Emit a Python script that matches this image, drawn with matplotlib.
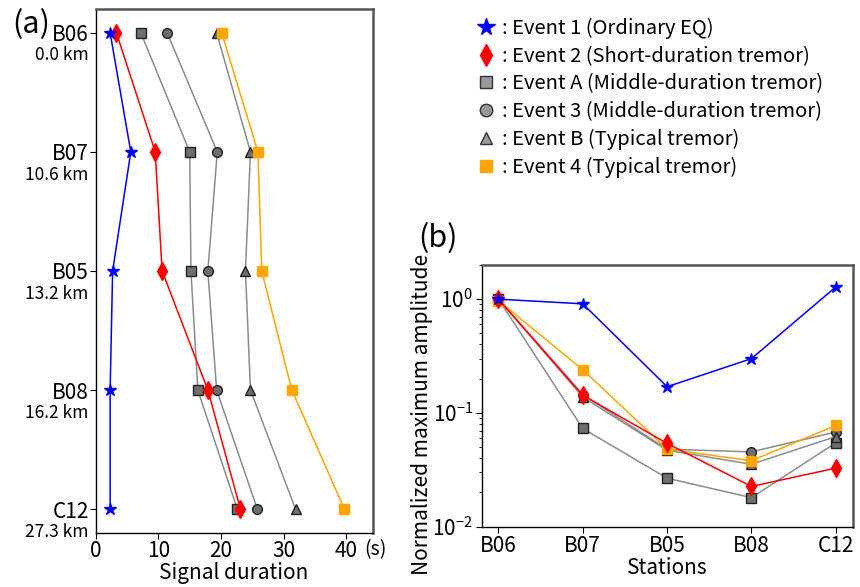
import numpy as np
import matplotlib
matplotlib.use("Agg")
import matplotlib.pyplot as plt
from matplotlib.lines import Line2D

plt.rcParams['font.family'] = ['Noto Sans CJK JP', 'DejaVu Sans']

stations = ["B06", "B07", "B05", "B08", "C12"]
distances = ["0.0 km", "10.6 km", "13.2 km", "16.2 km", "27.3 km"]

labels = [": Event 1 (Ordinary EQ)",
          ": Event 2 (Short-duration tremor)",
          ": Event A (Middle-duration tremor)",
          ": Event 3 (Middle-duration tremor)",
          ": Event B (Typical tremor)",
          ": Event 4 (Typical tremor)"]

# signal duration (s) at each station
dur_ev1 = [2.3, 5.6, 2.7, 2.3, 2.3]
dur_ev2 = [3.3, 9.5, 10.6, 17.9, 23.1]
dur_evA = [7.2, 15.0, 15.2, 16.3, 22.6]
dur_ev3 = [11.4, 19.4, 17.9, 19.3, 25.8]
dur_evB = [19.3, 24.7, 23.9, 24.7, 31.9]
dur_ev4 = [20.1, 25.9, 26.5, 31.3, 39.7]

# normalized maximum amplitude
amp_ev1 = [1.0, 0.91, 0.17, 0.30, 1.28]
amp_ev2 = [1.0, 0.143, 0.054, 0.0226, 0.0327]
amp_evA = [1.0, 0.073, 0.0267, 0.018, 0.0546]
amp_ev3 = [1.0, 0.145, 0.048, 0.0455, 0.068]
amp_evB = [1.0, 0.138, 0.047, 0.0354, 0.062]
amp_ev4 = [0.97, 0.24, 0.048, 0.038, 0.0776]

gray_face = '#6e6e6e'
gray_line = '#8c8c8c'
styles = [
    dict(color='blue', marker='*', mfc='blue', mec='blue', ms=9),
    dict(color='red', marker='d', mfc='red', mec='red', ms=9),
    dict(color=gray_line, marker='s', mfc=gray_face, mec='#222222', ms=7),
    dict(color=gray_line, marker='o', mfc=gray_face, mec='#222222', ms=7),
    dict(color=gray_line, marker='^', mfc=gray_face, mec='#222222', ms=7),
    dict(color='orange', marker='s', mfc='orange', mec='orange', ms=7),
]
durations = [dur_ev1, dur_ev2, dur_evA, dur_ev3, dur_evB, dur_ev4]
amplitudes = [amp_ev1, amp_ev2, amp_evA, amp_ev3, amp_evB, amp_ev4]
order = [2, 3, 4, 5, 1, 0]

fig = plt.figure(figsize=(8.6, 5.87), dpi=100)
ax1 = fig.add_axes([0.1113, 0.092, 0.322, 0.8927])
ax2 = fig.add_axes([0.560, 0.1027, 0.4314, 0.446])

ypos = np.arange(len(stations))

# (a) signal duration
for k in order:
    ax1.plot(durations[k], ypos, lw=1.1, **styles[k])
ax1.set_xlim(0, 44.2)
ax1.set_ylim(4.2, -0.2)
ax1.set_xticks([0, 10, 20, 30, 40])
ax1.set_yticks(ypos)
ax1.set_yticklabels(stations, fontsize=15)
ax1.tick_params(axis='x', labelsize=15, direction='out', length=4, pad=1)
ax1.tick_params(axis='y', direction='out', length=4, pad=1)
for i, d in enumerate(distances):
    ax1.text(-0.025, i + 0.19, d, transform=ax1.get_yaxis_transform(),
             ha='right', va='center', fontsize=12.5)
ax1.text(1.01, -0.012, "(s)", transform=ax1.transAxes, ha='center', va='top', fontsize=14)
ax1.set_xlabel("Signal duration", fontsize=15, labelpad=0)
ax1.text(-0.30, 1.0, "(a)", transform=ax1.transAxes, fontsize=22, ha='left', va='top')

# (b) normalized amplitude
for k in order:
    ax2.plot(np.arange(len(stations)), amplitudes[k], lw=1.1, **styles[k])
ax2.set_yscale('log')
ax2.set_ylim(0.01, 2.0)
ax2.set_xlim(-0.2, 4.2)
ax2.set_xticks(np.arange(len(stations)))
ax2.set_xticklabels(stations, fontsize=15)
ax2.tick_params(axis='both', labelsize=15, direction='out', length=4, pad=2)
ax2.tick_params(axis='y', which='minor', direction='out', length=2.5)
ax2.set_ylabel("Normalized maximum amplitude", fontsize=15)
ax2.yaxis.set_label_coords(-0.13, 0.43)
ax2.set_xlabel("Stations", fontsize=15, labelpad=0)
ax2.text(-0.17, 1.16, "(b)", transform=ax2.transAxes, fontsize=22, ha='left', va='top')

for ax in (ax1, ax2):
    ax.spines['left'].set_color('black')
    ax.spines['bottom'].set_color('black')
    ax.spines['left'].set_linewidth(1.0)
    ax.spines['bottom'].set_linewidth(1.0)
    ax.spines['top'].set_color('#555555')
    ax.spines['right'].set_color('#555555')
    ax.spines['top'].set_linewidth(1.8)
    ax.spines['right'].set_linewidth(1.8)

# legend
leg_styles = [
    dict(marker='*', mfc='blue', mec='blue', ms=13),
    dict(marker='d', mfc='red', mec='red', ms=11),
    dict(marker='s', mfc='#999999', mec='#333333', ms=9),
    dict(marker='o', mfc='#999999', mec='#333333', ms=9),
    dict(marker='^', mfc='#999999', mec='#333333', ms=9),
    dict(marker='s', mfc='orange', mec='orange', ms=9),
]
handles = [Line2D([], [], ls='none', **s) for s in leg_styles]
fig.legend(handles, labels, loc='upper left', bbox_to_anchor=(0.535, 0.997),
           frameon=False, fontsize=14.5, handlelength=1.0, handletextpad=0.3,
           labelspacing=0.33, borderpad=0.3)

fig.savefig("out.png", dpi=100)
